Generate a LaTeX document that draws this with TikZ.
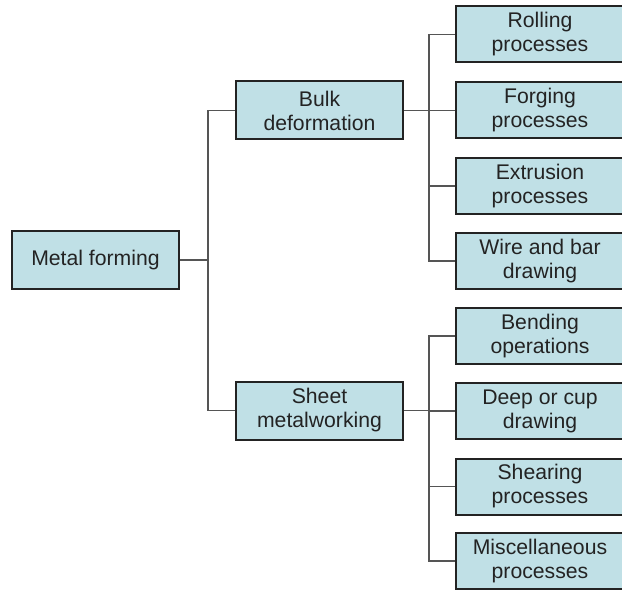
\documentclass[tikz,border=0pt]{standalone}
\usepackage{fontspec}
\setmainfont{Liberation Sans}
\definecolor{boxfill}{RGB}{192,224,230}
\definecolor{boxline}{RGB}{35,35,35}
\definecolor{connline}{RGB}{85,85,85}
\begin{document}
\begin{tikzpicture}[x=1pt,y=-1pt,
  box/.style={draw=boxline,fill=boxfill,line width=2pt,align=center,
    font=\fontsize{21.2}{24}\selectfont,text=boxline,inner sep=0pt},
  leftbox/.style={box,minimum width=167pt,minimum height=58pt},
  rightbox/.style={box,minimum width=168pt,minimum height=56pt},
  conn/.style={draw=connline,line width=1.2pt}]
\useasboundingbox (0,0) rectangle (622,591);
\clip (0,0) rectangle (622,591);
\node[leftbox] (mf) at (95.5,260) {Metal forming};
\node[leftbox] (bulk) at (319.5,110.5) {Bulk\\deformation};
\node[leftbox] (sheet) at (319.5,410.5) {Sheet\\metalworking};
\node[rightbox] (r1) at (540,34.5) {Rolling\\processes};
\node[rightbox] (r2) at (540,110.5) {Forging\\processes};
\node[rightbox] (r3) at (540,186) {Extrusion\\processes};
\node[rightbox] (r4) at (540,261) {Wire and bar\\drawing};
\node[rightbox] (s1) at (540,336) {Bending\\operations};
\node[rightbox] (s2) at (540,411) {Deep or cup\\drawing};
\node[rightbox] (s3) at (540,486.5) {Shearing\\processes};
\node[rightbox] (s4) at (540,561) {Miscellaneous\\processes};
\coordinate (j1) at (208,260);
\coordinate (j2) at (429,110.5);
\coordinate (j3) at (429,410.5);
\begin{scope}[on background layer/.try]
\draw[conn] (mf.east) -- (j1);
\draw[conn] (bulk.west) -| (j1) |- (sheet.west);
\draw[conn] (bulk.east) -- (j2);
\draw[conn] (r1.west) -| (j2) |- (r4.west);
\draw[conn] (r2.west) -- (r2.west -| j2);
\draw[conn] (r3.west) -- (r3.west -| j2);
\draw[conn] (sheet.east) -- (j3);
\draw[conn] (s1.west) -| (j3) |- (s4.west);
\draw[conn] (s2.west) -- (s2.west -| j3);
\draw[conn] (s3.west) -- (s3.west -| j3);
\end{scope}
\end{tikzpicture}
\end{document}
